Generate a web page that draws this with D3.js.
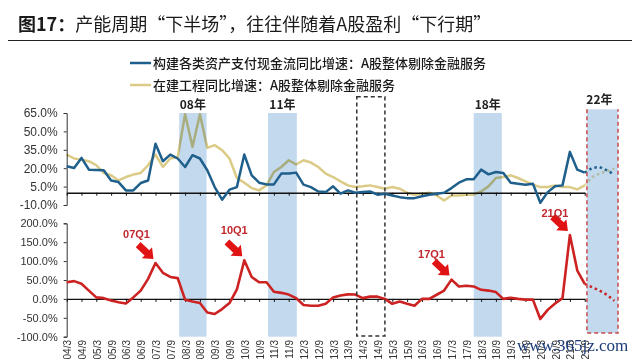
<!DOCTYPE html>
<html><head><meta charset="utf-8">
<script src="https://cdn.jsdelivr.net/npm/d3@7"></script>
<style>body{margin:0;background:#fff}svg{display:block}</style>
</head><body>
<svg id="c" width="640" height="360"></svg>
<script>
// ---------- DATA (quarter index 0 = 2004Q1) ----------
const tickLabels = ["04/3","04/9","05/3","05/9","06/3","06/9","07/3","07/9","08/3","08/9","09/3","09/9",
  "10/3","10/9","11/3","11/9","12/3","12/9","13/3","13/9","14/3","14/9","15/3","15/9","16/3","16/9",
  "17/3","17/9","18/3","18/9","19/3","19/9","20/3","20/9","21/3","21/9"];
const cashFlowGrowth = [21.6,20.2,28.4,18.8,18.5,18.3,10,8.7,1.9,1.9,7.9,10,40,25.7,31.1,27.9,21,30.6,27.9,18.3,
  4.6,-5.7,2.5,4.6,31.1,14.2,8.2,6.8,6.8,15.6,15.6,16.4,6.6,4.6,1,0.5,5.2,-0.8,1.9,0,0.5,1,-1.6,-0.8,-2.2,-3.6,
  -4.4,-4.4,-2.8,-1.6,-0.8,0,3.8,8.2,10.9,10.9,18.8,15,16.9,16.1,8.2,7.4,6.6,7.4,-8.2,0.5,5.2,6,33.3,18.8,16.4];
const cipGrowth = [31.1,27.9,27,25.7,22.4,16.1,14.2,10,12.8,14.8,16.1,22.4,31.1,21,27.9,29.2,64,37.4,64,36.6,
  38.8,34.7,27.9,12,8.2,3.8,1.9,6,16.9,21,26.5,23,26.5,24.6,21,15.6,12.8,9.3,6,4.6,5.2,6,4.6,3.3,4.6,3.3,0,-1.6,
  -0.8,0,-2.2,-6.3,-2.2,-2.2,-1.6,-1.6,1,5.2,12,12.8,14.2,12,9.3,6.6,4.6,4.6,6,4.6,4.6,2.7,6];
const profitGrowth = [44,47,40,22,4,2,-4.5,-9,-12,4,22,53,95,69,58,55,-2,-7,-11,-36,-40,-27,-11,25,102,58,44,44,
  19,16,11.5,2,-16,-18,-18,-13,4,9,12,11.5,2,6,6,0,-13,-7,-13,-18,0,0,11,22,51,33,35,33,24,22,18,0,3,0,-2,-2,
  -53,-29,-12,2,169,75,40];
const forecastQuarters = [70,71,72,73,74];
const cashFlowForecast = [16.4,20.2,21,18.3,14.8];
const cipForecast = [6,12.8,15.6,17.5,19.7];
const profitForecast = [40,31,22,11,-5];
const shadePeriods = [{label:"08年",from:15.2,to:18.9},{label:"11年",from:27.2,to:31.1},{label:"18年",from:55,to:58.8}];
const dashedPeriod = {from:39.2,to:43};
const forecastPeriod = {label:"22年",from:70.3,to:74.5};
const annotations = [{label:"07Q1",q:12},{label:"10Q1",q:24},{label:"17Q1",q:52},{label:"21Q1",q:68}];
const topTicks = [65,50,35,20,5,-10];
const bottomTicks = [200,150,100,50,0,-50,-100];
const legendNames = ["构建各类资产支付现金流同比增速：A股整体剔除金融服务","在建工程同比增速：A股整体剔除金融服务"];

// ---------- STYLE ----------
const BLUE="#1f5f8c", YEL="#dccb86", RED="#cc2222", SHADE="#c3d9ee";
const svg = d3.select("#c");
const x = d3.scaleLinear().domain([0,70]).range([66.7,584.7]);
const yT = d3.scaleLinear().domain([-10,65]).range([205,113]);
const yB = d3.scaleLinear().domain([-100,200]).range([336.7,223.3]);
const idx = cashFlowGrowth.map((d,i)=>i);

// title
const t = svg.append("text").attr("x",18).attr("y",31).attr("font-family","'Noto Sans CJK SC'")
  .attr("font-size",18).attr("fill","#1a1a1a");
t.append("tspan").attr("font-weight","bold").text("图17：");
t.append("tspan").text("产能周期“下半场”，往往伴随着A股盈利“下行期”");
svg.append("line").attr("x1",8).attr("x2",632).attr("y1",40.5).attr("y2",40.5).attr("stroke","#222").attr("stroke-width",1.2);

// legend
[[BLUE,63],[YEL,85]].forEach((c,i)=>{
  svg.append("line").attr("x1",130).attr("x2",151).attr("y1",c[1]).attr("y2",c[1]).attr("stroke",c[0]).attr("stroke-width",2.5);
  svg.append("text").attr("x",153).attr("y",c[1]+4.5).attr("font-family","'Noto Sans CJK SC'").attr("font-size",13)
    .attr("font-weight",500).attr("fill","#1a1a1a").text(legendNames[i]);
});

// shading
const g = svg.append("g");
shadePeriods.forEach(p=>{
  g.append("rect").attr("x",x(p.from)).attr("width",x(p.to)-x(p.from)).attr("y",yT(65)).attr("height",yB(-100)-yT(65)).attr("fill",SHADE);
  svg.append("text").attr("x",(x(p.from)+x(p.to))/2).attr("y",yT(65)-4).attr("text-anchor","middle")
    .attr("font-family","'Noto Sans CJK SC'").attr("font-weight","bold").attr("font-size",12).attr("fill","#222").text(p.label);
});
const fx0=x(forecastPeriod.from), fx1=x(forecastPeriod.to), fy0=109.3, fy1=333;
g.append("rect").attr("x",fx0).attr("width",fx1-fx0).attr("y",fy0).attr("height",fy1-fy0).attr("fill",SHADE);
svg.append("text").attr("x",(fx0+fx1)/2-3).attr("y",fy0-5).attr("text-anchor","middle")
  .attr("font-family","'Noto Sans CJK SC'").attr("font-weight","bold").attr("font-size",12).attr("fill","#222").text(forecastPeriod.label);

// axes
function leftAxis(scale, ticks, size){
  const a = svg.append("g").attr("transform","translate(66.7,0)")
    .call(d3.axisLeft(scale).tickValues(ticks).tickSize(3).tickPadding(6).tickFormat(d=>d.toFixed(1)+"%"));
  a.select(".domain").attr("stroke","#333");
  a.selectAll(".tick line").attr("stroke","#333");
  a.selectAll("text").attr("font-family","'Liberation Sans',Arial").attr("font-size",size).attr("fill","#333");
}
leftAxis(yT, topTicks, 12);
leftAxis(yB, bottomTicks, 11);
const halfYearTicks = tickLabels.map((d,i)=>i*2);
function zeroAxis(scale){
  const a = svg.append("g").attr("transform",`translate(0,${scale(0)})`)
    .call(d3.axisBottom(x).tickValues(halfYearTicks).tickSize(3).tickSizeOuter(0).tickFormat(""));
  a.select(".domain").attr("stroke","#111").attr("stroke-width",1.3);
  a.selectAll(".tick line").attr("stroke","#111");
}
zeroAxis(yT); zeroAxis(yB);
// x labels
svg.append("g").selectAll("text").data(tickLabels).join("text")
  .attr("transform",(d,i)=>`translate(${x(i*2)+1},340) rotate(-90)`).attr("dy","0.35em")
  .attr("text-anchor","end").attr("font-family","'Liberation Sans',Arial").attr("font-size",10).attr("fill","#333").text(d=>d);

// lines
function drawLine(values, qs, scale, color, w, dash, blend){
  const p = svg.append("path").datum(qs).attr("fill","none").attr("stroke",color).attr("stroke-width",w)
    .attr("stroke-linejoin","round")
    .attr("d", d3.line().x(q=>x(q)).y((q,k)=>scale(values[k])));
  if(dash) p.attr("stroke-dasharray",dash);
  if(blend) p.style("mix-blend-mode","multiply");
  return p;
}
drawLine(cipGrowth, idx, yT, YEL, 2.5, null, true);
drawLine(cipForecast, forecastQuarters, yT, "#e6dcae", 2.5, "2.5,3", true);
drawLine(cashFlowGrowth, idx, yT, BLUE, 2.5);
drawLine(cashFlowForecast, forecastQuarters, yT, BLUE, 2.5, "2.5,3");
drawLine(profitGrowth, idx, yB, RED, 2.6);
drawLine(profitForecast, forecastQuarters, yB, RED, 2.5, "2.5,3");

// dashed boxes
const dx0=x(dashedPeriod.from), dx1=x(dashedPeriod.to);
svg.append("rect").attr("x",dx0).attr("y",96.7).attr("width",dx1-dx0).attr("height",336-96.7)
  .attr("fill","none").attr("stroke","#333").attr("stroke-width",1.5).attr("stroke-dasharray","4,3");
svg.append("path").attr("d",`M${fx0},${fy0}V${fy1}H${fx1}V${fy0}`).attr("fill","none")
  .attr("stroke","#c84a4a").attr("stroke-width",1.5).attr("stroke-dasharray","4,3");

// annotations
const labelOffsets = [[-19,-25],[-10,-26],[-20,-22],[-15,-18.5]];
annotations.forEach((a,k)=>{
  const px = x(a.q), py = yB(profitGrowth[a.q]);
  const tx = px-2, ty = py-4, L=21;
  svg.append("path").attr("d",`M0,0L-9,-7.5L-9,-3.5L-${L},-3.5L-${L},3.5L-9,3.5L-9,7.5Z`)
    .attr("transform",`translate(${tx},${ty}) rotate(43)`).attr("fill","#e01414");
  svg.append("text").attr("x",px+labelOffsets[k][0]).attr("y",py+labelOffsets[k][1]).attr("text-anchor","middle")
    .attr("font-family","'Liberation Sans',Arial").attr("font-weight","bold").attr("font-size",11).attr("fill","#c0282d").text(a.label);
});

// watermark
svg.append("text").attr("x",517).attr("y",351).attr("font-family","'Liberation Serif',serif").attr("font-size",17)
  .attr("fill","#1b3a78").text("www.365jz.com");
</script></body></html>
